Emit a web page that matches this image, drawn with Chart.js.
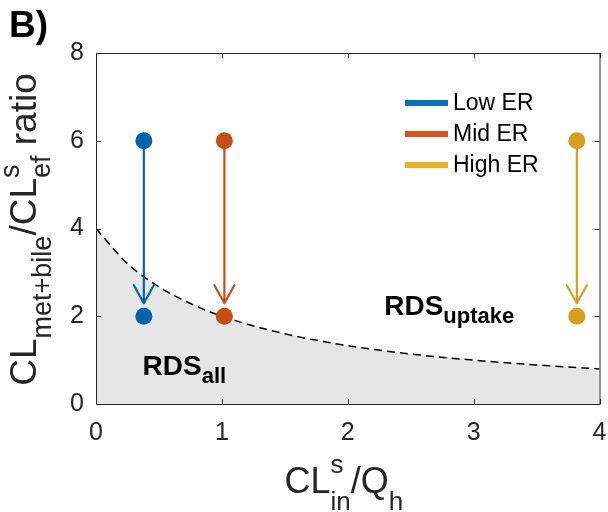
<!DOCTYPE html>
<html>
<head>
<meta charset="utf-8">
<script src="https://cdn.jsdelivr.net/npm/chart.js@4.4.1/dist/chart.umd.min.js"></script>
<style>
  html, body { margin: 0; padding: 0; background: #fff; }
  #wrap { width: 608px; height: 512px; position: relative; }
</style>
</head>
<body>
<div id="wrap"><canvas id="chart"></canvas></div>
<script>
// extraction ratio groups
const seriesNames = ['Low ER', 'Mid ER', 'High ER'];
const clinQh = [0.38, 1.02, 3.82];
const ratioBefore = [6, 6, 6];
const ratioAfter = [2, 2, 2];

// boundary between the two rate-determining-step regimes
const boundaryX = [0, 0.25, 0.5, 0.75, 1, 1.5, 2, 2.5, 3, 3.5, 4];
const boundaryY = [4, 3.2, 2.67, 2.29, 2, 1.6, 1.33, 1.14, 1, 0.89, 0.8];

const xTicks = [0, 1, 2, 3, 4];
const yTicks = [0, 2, 4, 6, 8];

const lineColors = ['#0072BD', '#D95319', '#EDB120'];
const markerColors = ['#0064AA', '#C44D18', '#D6A01F'];
const FONT = "'Liberation Sans', Arial, Helvetica, sans-serif";
const AXIS = '#262626';

// draws a run of text pieces with sub/superscripts, centred on (0,0)
function richText(ctx, parts) {
  const widthOf = p => {
    ctx.font = (p.bold ? 'bold ' : '') + p.size + 'px ' + FONT;
    return ctx.measureText(p.t).width;
  };
  const adv = parts.map(p => p.stack ? Math.max(...p.stack.map(widthOf)) : widthOf(p));
  let x = -adv.reduce((a, b) => a + b, 0) / 2;
  ctx.textAlign = 'left';
  ctx.textBaseline = 'alphabetic';
  parts.forEach((p, i) => {
    (p.stack || [p]).forEach(q => {
      ctx.font = (q.bold ? 'bold ' : '') + q.size + 'px ' + FONT;
      ctx.fillText(q.t, x, q.dy || 0);
    });
    x += adv[i];
  });
}

const decorations = {
  id: 'decorations',
  afterDatasetDraw(chart, args) {
    // arrows go over the shaded region but under the markers
    if (args.index !== 0) return;
    const { ctx, scales: { x, y } } = chart;
    ctx.save();
    ctx.lineWidth = 2.2;
    ctx.lineCap = 'round';
    ctx.lineJoin = 'round';
    clinQh.forEach((v, i) => {
      const px = x.getPixelForValue(v);
      const y0 = y.getPixelForValue(ratioBefore[i]);
      const tip = y.getPixelForValue(ratioAfter[i]) - 13;
      ctx.strokeStyle = markerColors[i];
      ctx.beginPath();
      ctx.moveTo(px, y0);
      ctx.lineTo(px, tip);
      ctx.moveTo(px - 10, tip - 18);
      ctx.lineTo(px, tip);
      ctx.lineTo(px + 10, tip - 18);
      ctx.stroke();
    });
    ctx.restore();
  },
  afterDraw(chart) {
    const { ctx, chartArea: a, scales: { x, y } } = chart;
    ctx.save();

    // axes box with inward ticks
    ctx.strokeStyle = AXIS;
    ctx.lineWidth = 1;
    ctx.strokeRect(a.left + 0.5, a.top + 0.5, a.right - a.left, a.bottom - a.top);
    ctx.beginPath();
    xTicks.forEach(t => {
      const px = Math.round(x.getPixelForValue(t)) + 0.5;
      ctx.moveTo(px, a.bottom); ctx.lineTo(px, a.bottom - 5);
      ctx.moveTo(px, a.top); ctx.lineTo(px, a.top + 5);
    });
    yTicks.forEach(t => {
      const py = Math.round(y.getPixelForValue(t)) + 0.5;
      ctx.moveTo(a.left, py); ctx.lineTo(a.left + 5, py);
      ctx.moveTo(a.right, py); ctx.lineTo(a.right - 5, py);
    });
    ctx.stroke();

    // legend
    seriesNames.forEach((name, i) => {
      const cy = 103 + i * 31;
      ctx.strokeStyle = lineColors[i];
      ctx.lineWidth = 6;
      ctx.beginPath();
      ctx.moveTo(405, cy); ctx.lineTo(448, cy);
      ctx.stroke();
      ctx.fillStyle = '#000';
      ctx.font = '23px ' + FONT;
      ctx.textAlign = 'left';
      ctx.textBaseline = 'middle';
      ctx.fillText(name, 453, cy + 1);
    });

    // region labels
    ctx.fillStyle = '#000';
    ctx.textBaseline = 'alphabetic';
    ctx.save();
    ctx.translate(x.getPixelForValue(2.29), y.getPixelForValue(2.03));
    ctx.textAlign = 'left';
    ctx.font = 'bold 28px ' + FONT;
    ctx.fillText('RDS', 0, 0);
    const w1 = ctx.measureText('RDS').width;
    ctx.font = 'bold 22px ' + FONT;
    ctx.fillText('uptake', w1, 8);
    ctx.restore();

    ctx.save();
    ctx.translate(x.getPixelForValue(0.37), y.getPixelForValue(0.66));
    ctx.font = 'bold 28px ' + FONT;
    ctx.fillText('RDS', 0, 0);
    const w2 = ctx.measureText('RDS').width;
    ctx.font = 'bold 22px ' + FONT;
    ctx.fillText('all', w2, 8);
    ctx.restore();

    // axis titles
    ctx.fillStyle = '#262626';
    ctx.save();
    ctx.translate((a.left + a.right) / 2 - 4, 493);
    richText(ctx, [
      { t: 'CL', size: 36 },
      { stack: [{ t: 's', size: 26, dy: -20 }, { t: 'in', size: 26, dy: 17 }] },
      { t: '/Q', size: 36 },
      { t: 'h', size: 26, dy: 17 }
    ]);
    ctx.restore();

    ctx.save();
    ctx.translate(36, (a.top + a.bottom) / 2 + 1);
    ctx.rotate(-Math.PI / 2);
    richText(ctx, [
      { t: 'CL', size: 37 },
      { t: 'met+bile', size: 27, dy: 15 },
      { t: '/CL', size: 37 },
      { stack: [{ t: 's', size: 27, dy: -17 }, { t: 'ef', size: 27, dy: 14 }] },
      { t: ' ratio', size: 37 }
    ]);
    ctx.restore();

    // panel letter
    ctx.fillStyle = '#000';
    ctx.font = 'bold 37px ' + FONT;
    ctx.textAlign = 'left';
    ctx.fillText('B)', 9, 37);
    ctx.restore();
  }
};

const datasets = [{
  type: 'line',
  label: 'boundary',
  data: boundaryX.map((v, i) => ({ x: v, y: boundaryY[i] })),
  borderColor: '#000',
  borderWidth: 1.5,
  borderDash: [8, 5],
  backgroundColor: '#e6e6e6',
  fill: 'origin',
  pointRadius: 0,
  cubicInterpolationMode: 'monotone',
  order: 10
}];
seriesNames.forEach((name, i) => {
  datasets.push({
    type: 'scatter',
    label: name,
    data: [{ x: clinQh[i], y: ratioBefore[i] }, { x: clinQh[i], y: ratioAfter[i] }],
    backgroundColor: markerColors[i],
    borderWidth: 0,
    pointRadius: 8.5,
    order: 0
  });
});

new Chart(document.getElementById('chart'), {
  data: { datasets },
  options: {
    responsive: true,
    maintainAspectRatio: false,
    animation: false,
    layout: { padding: { top: 53, right: 7, left: 0, bottom: 0 } },
    plugins: { legend: { display: false }, tooltip: { enabled: false } },
    scales: {
      x: {
        type: 'linear',
        min: 0, max: 4,
        afterBuildTicks: s => { s.ticks = xTicks.map(v => ({ value: v })); },
        afterFit: s => { s.height = 108; s.paddingLeft = 0; s.paddingRight = 0; },
        grid: { display: false },
        border: { display: false },
        ticks: { font: { family: FONT, size: 25 }, color: AXIS, padding: 6, maxRotation: 0 }
      },
      y: {
        type: 'linear',
        min: 0, max: 8,
        afterBuildTicks: s => { s.ticks = yTicks.map(v => ({ value: v })); },
        afterFit: s => { s.width = 96; s.paddingTop = 0; s.paddingBottom = 0; },
        grid: { display: false },
        border: { display: false },
        ticks: { font: { family: FONT, size: 25 }, color: AXIS, padding: 4 }
      }
    }
  },
  plugins: [decorations]
});
</script>
</body>
</html>
